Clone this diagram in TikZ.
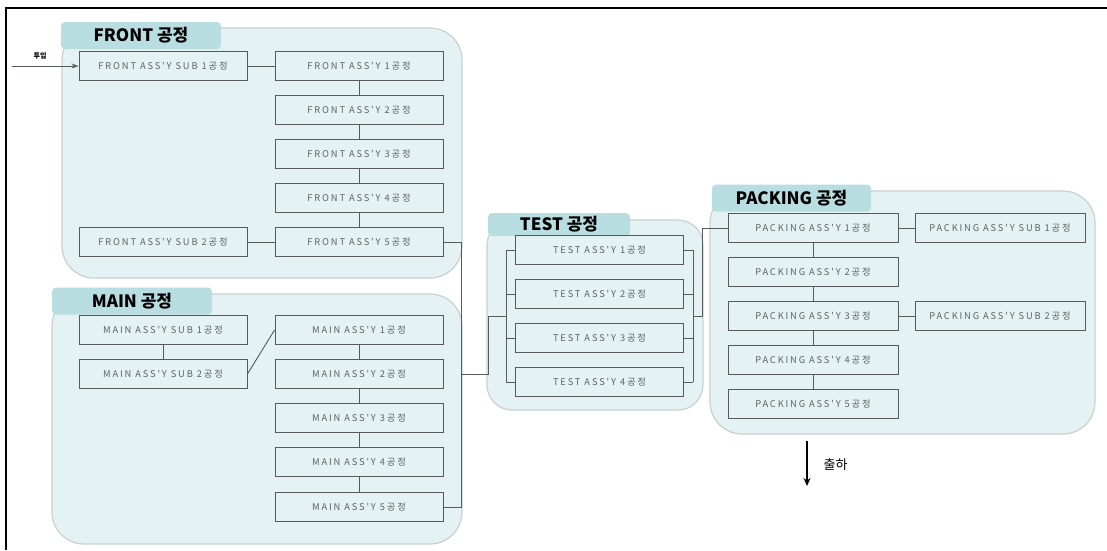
\documentclass[tikz,border=0pt]{standalone}
\usepackage{fontspec}
\newfontfamily\kr{Noto Sans CJK KR}
\newfontfamily\krwide[LetterSpace=20]{Noto Sans CJK KR}
\usetikzlibrary{arrows.meta}
\definecolor{panelfill}{HTML}{E4F2F3}
\definecolor{paneledge}{HTML}{C7D1D1}
\definecolor{tabfill}{HTML}{B8DEE2}
\definecolor{linegray}{HTML}{555B5B}
\definecolor{textgray}{HTML}{5E6262}

\begin{document}
\begin{tikzpicture}[x=1pt, y=-1pt,
    panel/.style={draw=paneledge, line width=1.2pt, fill=panelfill, rounded corners=32pt},
    tab/.style={fill=tabfill, rounded corners=4pt, inner sep=0pt, minimum height=27pt, font=\kr\bfseries\fontsize{17}{17}\selectfont},
    box/.style={draw=linegray, line width=0.9pt, minimum width=168pt, minimum height=29pt, inner sep=0pt, text=textgray, font=\krwide\fontsize{9.3}{10}\selectfont},
    wide/.style={box, minimum width=170pt},
    link/.style={draw=linegray, line width=0.9pt}]
    \useasboundingbox (0,0) rectangle (1107,550);
    % frame
    \draw[line width=1.2pt] (6,550) -- (6,8) -- (1107,8);

    % panels
    \draw[panel] (62,28) rectangle (462,278);
    \draw[panel] (52,294) rectangle (462,544);
    \draw[panel, rounded corners=25pt] (487,220) rectangle (703,410);
    \draw[panel] (710,191) rectangle (1095,434);
    \node[tab, minimum width=160pt] (tabfront) at (141,35.5) {FRONT 공정};
    \node[tab, minimum width=160pt] (tabmain) at (132,301) {MAIN 공정};
    \node[tab, minimum width=142pt, minimum height=23pt] (tabtest) at (559,224.5) {TEST 공정};
    \node[tab, minimum width=159pt] (tabpack) at (791.5,198) {PACKING 공정};

    % FRONT
    \node[box] (fsub1) at (163,66) {FRONT ASS'Y SUB 1공정};
    \node[box] (fsub2) at (163,242) {FRONT ASS'Y SUB 2공정};
    \foreach \i/\y in {1/66, 2/110, 3/154, 4/198, 5/242}
        \node[box] (f\i) at (359,\y) {FRONT ASS'Y \i{}공정};

    % MAIN
    \node[box] (msub1) at (163,330) {MAIN ASS'Y SUB 1공정};
    \node[box] (msub2) at (163,374) {MAIN ASS'Y SUB 2공정};
    \foreach \i/\y in {1/330, 2/374, 3/418, 4/462, 5/507}
        \node[box] (m\i) at (359,\y) {MAIN ASS'Y \i{}공정};

    % TEST
    \foreach \i/\y in {1/250, 2/294, 3/338, 4/382}
        \node[box] (t\i) at (599.5,\y) {TEST ASS'Y \i{}공정};

    % PACKING
    \foreach \i/\y in {1/228, 2/272, 3/316, 4/360, 5/404}
        \node[wide] (p\i) at (813,\y) {PACKING ASS'Y \i{}공정};
    \node[wide] (psub1) at (1000,228) {PACKING ASS'Y SUB 1공정};
    \node[wide] (psub2) at (1000,316) {PACKING ASS'Y SUB 2공정};

    % connectors
    \coordinate (in) at (12,66);
    \draw[link, -{Stealth[length=7pt, width=5pt]}] (in) -- (fsub1.west);
    \node[font=\kr\bfseries\fontsize{7}{7}\selectfont] (intext) at (40,56) {투입};
    \draw[link] (fsub1) -- (f1);
    \draw[link] (fsub2) -- (f5);
    \foreach \a/\b in {1/2, 2/3, 3/4, 4/5} {
        \draw[link] (f\a) -- (f\b);
        \draw[link] (m\a) -- (m\b);
        \draw[link] (p\a) -- (p\b);
    }
    \draw[link] (msub1) -- (msub2);
    \draw[link] (msub2.east) -- (m1.west);
    \draw[link] (p1) -- (psub1);
    \draw[link] (p3) -- (psub2);

    \coordinate (jm) at (461,374);
    \coordinate (tl) at (506,316);
    \coordinate (tr) at (693,316);
    \coordinate (jp) at (702,316);
    \draw[link] (f5.east) -| (jm);
    \draw[link] (m5.east) -| (jm);
    \draw[link] (jm) -- ++(27,0) |- (tl);
    \draw[link] (tl |- t1.west) -- (tl |- t4.west);
    \draw[link] (tr |- t1.east) -- (tr |- t4.east);
    \foreach \i in {1,...,4} {
        \draw[link] (t\i.west) -- (tl |- t\i.west);
        \draw[link] (t\i.east) -- (tr |- t\i.east);
    }
    \draw[link] (tr) -- (jp) |- (p1.west);

    % output
    \coordinate (out1) at (807,441);
    \coordinate (out2) at (807,486);
    \draw[line width=1.1pt, -{Stealth[length=8pt, width=7pt]}] (out1) -- (out2);
    \node[anchor=west, font=\kr\fontsize{13}{13}\selectfont] (outtext) at (820,465) {출하};
\end{tikzpicture}
\end{document}
